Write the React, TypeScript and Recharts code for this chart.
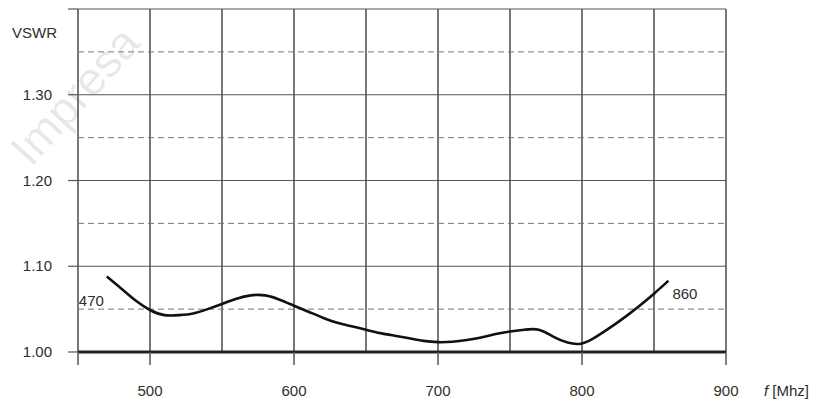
import React from 'react'
import {
  CartesianGrid,
  Line,
  LineChart,
  ReferenceLine,
  XAxis,
  YAxis
} from 'recharts'

// frequency (MHz) / VSWR
const freqs = [
  470, 480, 490, 500, 510, 520, 530, 540, 550, 560, 570, 580, 590, 600, 610,
  620, 630, 640, 650, 660, 670, 680, 690, 700, 710, 720, 730, 740, 750, 760,
  770, 780, 790, 800, 810, 820, 830, 840, 850, 860
]
const vswr = [
  1.088, 1.074, 1.06, 1.049, 1.043, 1.043, 1.045, 1.05, 1.056, 1.062, 1.066,
  1.066, 1.061, 1.054, 1.047, 1.04, 1.034, 1.03, 1.026, 1.022, 1.019, 1.016,
  1.013, 1.0115, 1.012, 1.014, 1.017, 1.021, 1.024, 1.026, 1.026, 1.018, 1.011,
  1.01, 1.018, 1.029, 1.041, 1.054, 1.068, 1.083
]

const xTicks = [450, 500, 550, 600, 650, 700, 750, 800, 850, 900]
const xLabels = [500, 600, 700, 800, 900]
const yMajor = [1.0, 1.1, 1.2, 1.3, 1.4]
const yMinor = [1.05, 1.15, 1.25, 1.35]
const yLabels = ['1.00', '1.10', '1.20', '1.30']

const data = freqs.map((f, i) => ({ f, v: vswr[i] }))

const font = '"Liberation Sans", Arial, sans-serif'
const txt = '#2e2e2e'

const XTick = (props: any) => {
  const { x, y, payload } = props
  const v = payload.value
  const marked = v === 450 || xLabels.includes(v)
  return (
    <g>
      {marked && <line x1={x} x2={x} y1={y} y2={y + 13} stroke="#555" strokeWidth={1.5} />}
      {xLabels.includes(v) && (
        <text x={x} y={y + 44} textAnchor="middle" fontSize={15} fill={txt} fontFamily={font}>
          {v}
        </text>
      )}
      {v === 900 && (
        <text x={x + 38} y={y + 44} fontSize={15} fill={txt} fontFamily={font}>
          <tspan fontStyle="italic">f</tspan> [Mhz]
        </text>
      )}
    </g>
  )
}

const YTick = (props: any) => {
  const { x, y, payload } = props
  const v = Number(payload.value)
  const major = yMajor.some((m) => Math.abs(m - v) < 1e-6)
  const label = yLabels.find((l) => Math.abs(Number(l) - v) < 1e-6)
  return (
    <g>
      {major && <line x1={x - 10} x2={x} y1={y} y2={y} stroke="#555" strokeWidth={1.2} />}
      {label && (
        <text x={x - 26} y={y + 5} textAnchor="end" fontSize={15} fill={txt} fontFamily={font}>
          {label}
        </text>
      )}
      {Math.abs(v - 1.4) < 1e-6 && (
        <text x={x - 66} y={y + 29} fontSize={15} fill={txt} fontFamily={font}>
          VSWR
        </text>
      )}
    </g>
  )
}

const EndLabel = (props: any) => {
  const { x, y, index } = props
  if (index === 0)
    return (
      <text x={x - 28} y={y + 29} fontSize={15} fill={txt} fontFamily={font}>
        {freqs[0]}
      </text>
    )
  if (index === freqs.length - 1)
    return (
      <text x={x + 4} y={y + 18} fontSize={15} fill={txt} fontFamily={font}>
        {freqs[freqs.length - 1]}
      </text>
    )
  return null
}

export default function App() {
  return (
    <div style={{ position: 'absolute', left: 0, top: 0, width: 824, height: 406, background: '#fff', overflow: 'hidden' }}>
      <div
        style={{
          position: 'absolute',
          left: 2,
          top: 142,
          fontFamily: font,
          fontSize: 46,
          lineHeight: '46px',
          color: 'rgba(0,0,0,0.09)',
          transform: 'rotate(-48deg)',
          transformOrigin: 'left top',
          pointerEvents: 'none'
        }}
      >
        Impresa
      </div>
      <LineChart
        width={824}
        height={406}
        data={data}
        margin={{ top: 9, right: 98, bottom: 0, left: 0 }}
      >
        <CartesianGrid horizontal={false} stroke="#4a4a4a" strokeWidth={1.5} />
        {yMinor.map((v) => (
          <ReferenceLine key={v} y={v} stroke="#777" strokeDasharray="6 4" strokeWidth={1} />
        ))}
        {yMajor.slice(1).map((v) => (
          <ReferenceLine key={v} y={v} stroke="#555" strokeWidth={1} />
        ))}
        <XAxis
          dataKey="f"
          type="number"
          domain={[450, 900]}
          ticks={xTicks}
          interval={0}
          height={54}
          tickSize={0}
          tickMargin={0}
          tickLine={false}
          axisLine={{ stroke: '#222', strokeWidth: 3 }}
          tick={<XTick />}
        />
        <YAxis
          type="number"
          domain={[1.0, 1.4]}
          ticks={[...yMajor, ...yMinor].sort((a, b) => a - b)}
          interval={0}
          width={78}
          tickSize={0}
          tickMargin={0}
          tickLine={false}
          axisLine={false}
          tick={<YTick />}
        />
        <Line
          dataKey="v"
          type="natural"
          stroke="#111"
          strokeWidth={2.6}
          dot={false}
          label={<EndLabel />}
          isAnimationActive={false}
        />
      </LineChart>
    </div>
  )
}
